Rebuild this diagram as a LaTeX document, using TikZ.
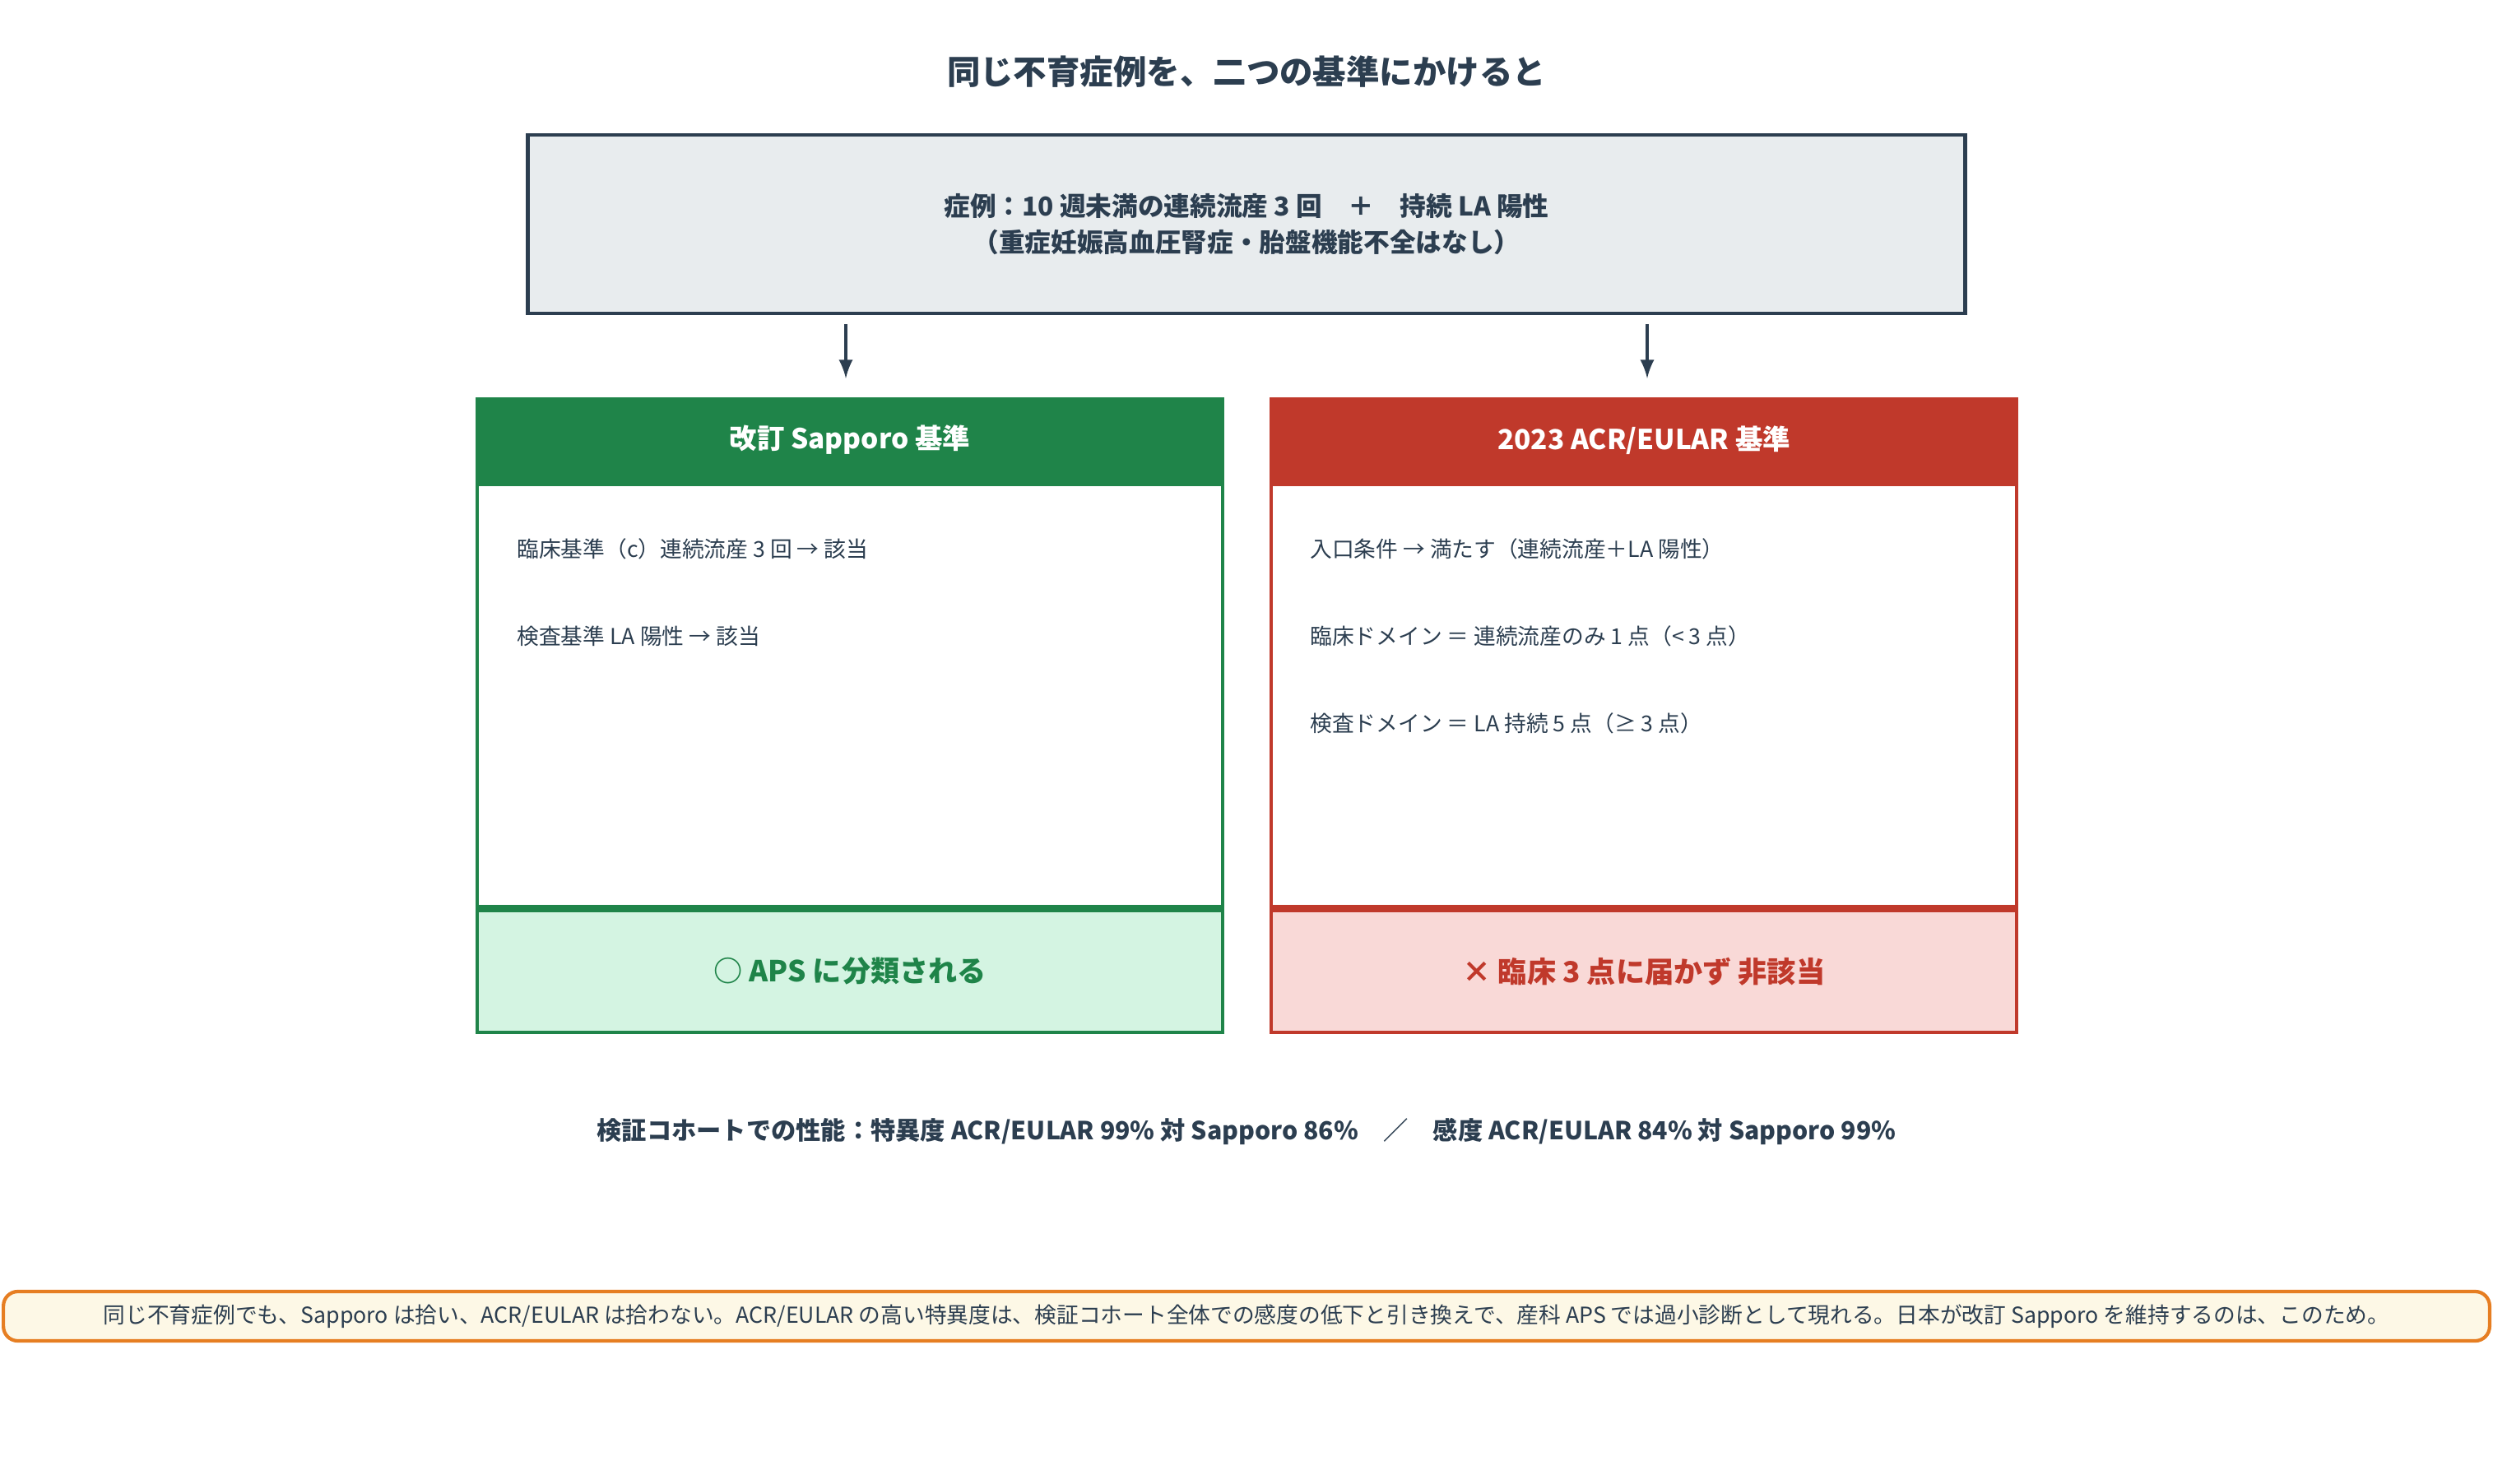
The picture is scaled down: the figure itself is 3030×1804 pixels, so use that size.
\documentclass[tikz,border=0pt]{standalone}
\usepackage{fontspec}
\setmainfont{Noto Sans CJK JP}
\usetikzlibrary{positioning}
\definecolor{ink}{HTML}{2C3E50}
\definecolor{boxgray}{HTML}{E8ECEE}
\definecolor{sapgreen}{HTML}{1F8449}
\definecolor{sapfill}{HTML}{D4F4E2}
\definecolor{acrred}{HTML}{C0392B}
\definecolor{acrfill}{HTML}{F9D9D7}
\definecolor{noteorange}{HTML}{E67E22}
\definecolor{notefill}{HTML}{FDF8E6}
\tikzset{
  head/.style={rectangle,draw=#1,fill=#1,line width=1.2pt,minimum width=9.06cm,minimum height=1cm,text=white,font=\fontsize{9.5}{11}\selectfont\bfseries},
  body/.style={rectangle,draw=#1,line width=1.2pt,minimum width=9.06cm,minimum height=5.13cm},
  foot/.style={rectangle,draw=#1,line width=1.2pt,minimum width=9.06cm,minimum height=1.48cm,text=#1,font=\fontsize{10}{12}\selectfont\bfseries},
  item/.style={anchor=west,text=ink,font=\fontsize{7.6}{9}\selectfont},
}
\begin{document}
\begin{tikzpicture}[x=0.01cm,y=-0.01cm]
  \useasboundingbox(0,0) rectangle (3030,1804);
  \node(title)[text=ink,font=\fontsize{11.5}{13}\selectfont\bfseries] at (1515,87){同じ不育症例を、二つの基準にかけると};
  \node(case)[rectangle,draw=ink,fill=boxgray,line width=1.2pt,minimum width=17.46cm,minimum height=2.17cm,align=center,text=ink,font=\fontsize{9}{12.5}\selectfont\bfseries] at (1515,272.5)
    {症例：10 週未満の連続流産 3 回　＋　持続 LA 陽性\\（重症妊娠高血圧腎症・胎盤機能不全はなし）};
  \coordinate(ca) at (1028,394);
  \coordinate(cb) at (2002,394);
  \coordinate(sa) at (1028,460);
  \coordinate(sb) at (2002,460);
\draw[-latex,ink,line width=1.2pt](ca)->(sa);
\draw[-latex,ink,line width=1.2pt](cb)->(sb);
  % Sapporo
  \node(saphead)[head=sapgreen] at (1033,535){改訂 Sapporo 基準};
  \node(sapbody)[body=sapgreen,below=0pt of saphead]{};
  \node(sapfoot)[foot=sapgreen,fill=sapfill,below=0pt of sapbody]{○ APS に分類される};
  \node(sap1)[item] at (616,667){臨床基準（c）連続流産 3 回 → 該当};
  \node(sap2)[item] at (616,773){検査基準 LA 陽性 → 該当};
  % ACR/EULAR
  \node(acrhead)[head=acrred] at (1998,535){2023 ACR/EULAR 基準};
  \node(acrbody)[body=acrred,below=0pt of acrhead]{};
  \node(acrfoot)[foot=acrred,fill=acrfill,below=0pt of acrbody]{× 臨床 3 点に届かず 非該当};
  \node(acr1)[item] at (1580,667){入口条件 → 満たす（連続流産＋LA 陽性）};
  \node(acr2)[item] at (1580,773){臨床ドメイン ＝ 連続流産のみ 1 点（< 3 点）};
  \node(acr3)[item] at (1580,879){検査ドメイン ＝ LA 持続 5 点（≥ 3 点）};
  \node(perf)[text=ink,font=\fontsize{8.6}{10}\selectfont\bfseries] at (1515,1376){検証コホートでの性能：特異度 ACR/EULAR 99\% 対 Sapporo 86\%　／　感度 ACR/EULAR 84\% 対 Sapporo 99\%};
  \node(note)[rectangle,rounded corners=5pt,draw=noteorange,fill=notefill,line width=1.2pt,minimum width=30.2cm,minimum height=0.6cm,text=ink,font=\fontsize{7.6}{9}\selectfont] at (1515,1600){同じ不育症例でも、Sapporo は拾い、ACR/EULAR は拾わない。ACR/EULAR の高い特異度は、検証コホート全体での感度の低下と引き換えで、産科 APS では過小診断として現れる。日本が改訂 Sapporo を維持するのは、このため。};
\end{tikzpicture}
\end{document}
